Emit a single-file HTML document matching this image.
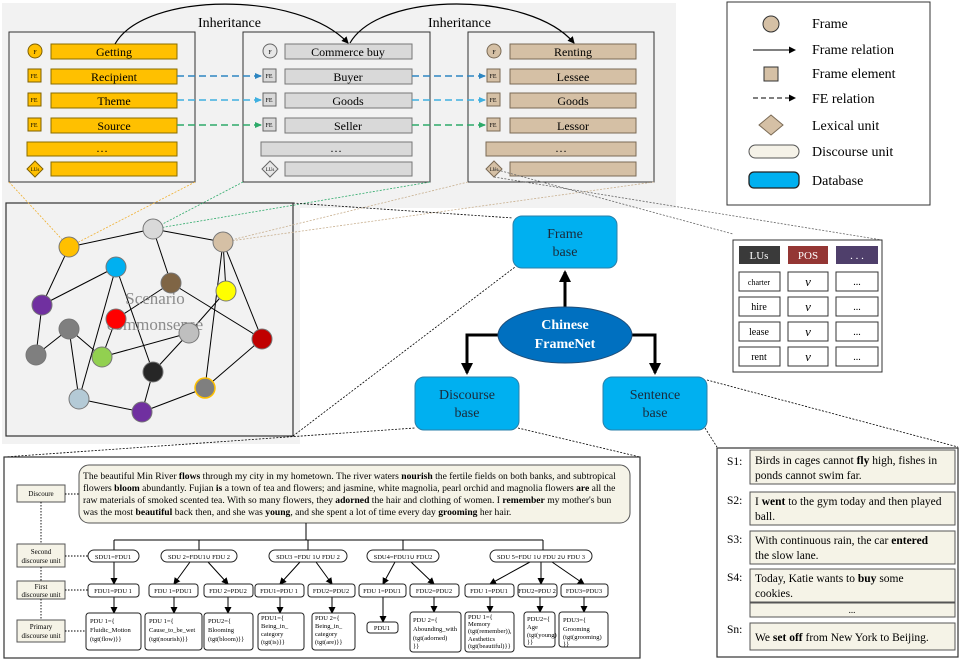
<!DOCTYPE html>
<html><head><meta charset="utf-8"><style>
html,body{margin:0;padding:0;background:#fff}
svg{display:block;font-family:"Liberation Serif",serif}
</style></head><body>
<svg width="967" height="662" viewBox="0 0 967 662" xmlns="http://www.w3.org/2000/svg">
<defs>
<marker id="ahb" markerWidth="7" markerHeight="6" refX="6" refY="3" orient="auto" markerUnits="userSpaceOnUse"><path d="M0,0 L7,3 L0,6 z" fill="#2e86c1"/></marker>
<marker id="ahc" markerWidth="7" markerHeight="6" refX="6" refY="3" orient="auto" markerUnits="userSpaceOnUse"><path d="M0,0 L7,3 L0,6 z" fill="#3fb0e0"/></marker>
<marker id="ahg" markerWidth="7" markerHeight="6" refX="6" refY="3" orient="auto" markerUnits="userSpaceOnUse"><path d="M0,0 L7,3 L0,6 z" fill="#2eaa6a"/></marker>
<marker id="big" markerWidth="12" markerHeight="12" refX="10" refY="6" orient="auto" markerUnits="userSpaceOnUse"><path d="M0,0 L12,6 L0,12 z" fill="#000"/></marker>
<marker id="sm" markerWidth="7" markerHeight="7" refX="6" refY="3.5" orient="auto" markerUnits="userSpaceOnUse"><path d="M0,0 L7,3.5 L0,7 z" fill="#000"/></marker>
</defs>

<rect x="2" y="3" width="674" height="205" fill="#f2f2f2"/>
<rect x="2" y="200" width="298" height="244" fill="#f2f2f2"/>

<text x="198" y="27" font-size="14">Inheritance</text>
<text x="428" y="27" font-size="14">Inheritance</text>

<g font-size="12" text-anchor="middle">
<rect x="9" y="32" width="186" height="150" fill="#f2f2f2" stroke="#333"/>
<circle cx="35" cy="51" r="7" fill="#ffc000" stroke="#7f6000"/><text x="35" y="54" font-size="6">F</text>
<rect x="51" y="44" width="126" height="15" fill="#ffc000" stroke="#8a6d00"/><text x="114" y="56">Getting</text>
<rect x="28" y="69" width="13" height="13" fill="#ffc000" stroke="#7f6000"/><text x="34" y="78" font-size="6">FE</text>
<rect x="51" y="69" width="126" height="15" fill="#ffc000" stroke="#8a6d00"/><text x="114" y="81">Recipient</text>
<rect x="28" y="93" width="13" height="13" fill="#ffc000" stroke="#7f6000"/><text x="34" y="102" font-size="6">FE</text>
<rect x="51" y="93" width="126" height="15" fill="#ffc000" stroke="#8a6d00"/><text x="114" y="105">Theme</text>
<rect x="28" y="118" width="13" height="13" fill="#ffc000" stroke="#7f6000"/><text x="34" y="127" font-size="6">FE</text>
<rect x="51" y="118" width="126" height="15" fill="#ffc000" stroke="#8a6d00"/><text x="114" y="130">Source</text>
<rect x="27" y="142" width="150" height="14" fill="#ffc000" stroke="#8a6d00"/><text x="102" y="152">…</text>
<path d="M35,161 L43,169 L35,177 L27,169 z" fill="#ffc000" stroke="#7f6000"/><text x="35" y="171" font-size="5">LUs</text>
<rect x="51" y="162" width="126" height="14" fill="#ffc000" stroke="#8a6d00"/>

<rect x="243" y="32" width="187" height="150" fill="#f2f2f2" stroke="#333"/>
<circle cx="270" cy="51" r="7" fill="#e7e7e7" stroke="#666"/><text x="270" y="54" font-size="6">F</text>
<rect x="285" y="44" width="127" height="15" fill="#d9d9d9" stroke="#777"/><text x="348" y="56">Commerce buy</text>
<rect x="263" y="69" width="13" height="13" fill="#d9d9d9" stroke="#666"/><text x="269" y="78" font-size="6">FE</text>
<rect x="285" y="69" width="127" height="15" fill="#d9d9d9" stroke="#777"/><text x="348" y="81">Buyer</text>
<rect x="263" y="93" width="13" height="13" fill="#d9d9d9" stroke="#666"/><text x="269" y="102" font-size="6">FE</text>
<rect x="285" y="93" width="127" height="15" fill="#d9d9d9" stroke="#777"/><text x="348" y="105">Goods</text>
<rect x="263" y="118" width="13" height="13" fill="#d9d9d9" stroke="#666"/><text x="269" y="127" font-size="6">FE</text>
<rect x="285" y="118" width="127" height="15" fill="#d9d9d9" stroke="#777"/><text x="348" y="130">Seller</text>
<rect x="261" y="142" width="151" height="14" fill="#d9d9d9" stroke="#777"/><text x="336" y="152">…</text>
<path d="M270,161 L278,169 L270,177 L262,169 z" fill="#e7e7e7" stroke="#666"/><text x="270" y="171" font-size="5">LUs</text>
<rect x="285" y="162" width="127" height="14" fill="#d9d9d9" stroke="#777"/>

<rect x="468" y="32" width="186" height="150" fill="#f2f2f2" stroke="#333"/>
<circle cx="494" cy="51" r="7" fill="#d5c0a5" stroke="#7a6a55"/><text x="494" y="54" font-size="6">F</text>
<rect x="510" y="44" width="126" height="15" fill="#d5c0a5" stroke="#7a6a55"/><text x="573" y="56">Renting</text>
<rect x="487" y="69" width="13" height="13" fill="#d5c0a5" stroke="#7a6a55"/><text x="493" y="78" font-size="6">FE</text>
<rect x="510" y="69" width="126" height="15" fill="#d5c0a5" stroke="#7a6a55"/><text x="573" y="81">Lessee</text>
<rect x="487" y="93" width="13" height="13" fill="#d5c0a5" stroke="#7a6a55"/><text x="493" y="102" font-size="6">FE</text>
<rect x="510" y="93" width="126" height="15" fill="#d5c0a5" stroke="#7a6a55"/><text x="573" y="105">Goods</text>
<rect x="487" y="118" width="13" height="13" fill="#d5c0a5" stroke="#7a6a55"/><text x="493" y="127" font-size="6">FE</text>
<rect x="510" y="118" width="126" height="15" fill="#d5c0a5" stroke="#7a6a55"/><text x="573" y="130">Lessor</text>
<rect x="486" y="142" width="150" height="14" fill="#d5c0a5" stroke="#7a6a55"/><text x="561" y="152">…</text>
<path d="M494,161 L502,169 L494,177 L486,169 z" fill="#d5c0a5" stroke="#7a6a55"/><text x="494" y="171" font-size="5">LUs</text>
<rect x="510" y="162" width="126" height="14" fill="#d5c0a5" stroke="#7a6a55"/>
</g>

<!-- inheritance arcs (on top of boxes) -->
<path d="M115,44 C145,-9 300,-9 348,43" fill="none" stroke="#000" stroke-width="1.2" marker-end="url(#sm)"/>
<path d="M350,43 C380,-9 530,-9 574,43" fill="none" stroke="#000" stroke-width="1.2" marker-end="url(#sm)"/>

<g stroke-width="1.5" stroke-dasharray="7,4" fill="none">
<line x1="177" y1="76" x2="261" y2="76" stroke="#2e86c1" marker-end="url(#ahb)"/>
<line x1="177" y1="100" x2="261" y2="100" stroke="#3fb0e0" marker-end="url(#ahc)"/>
<line x1="177" y1="125" x2="261" y2="125" stroke="#2eaa6a" marker-end="url(#ahg)"/>
<line x1="412" y1="76" x2="485" y2="76" stroke="#2e86c1" marker-end="url(#ahb)"/>
<line x1="412" y1="100" x2="485" y2="100" stroke="#3fb0e0" marker-end="url(#ahc)"/>
<line x1="412" y1="125" x2="485" y2="125" stroke="#2eaa6a" marker-end="url(#ahg)"/>
</g>

<!-- graph box -->
<rect x="6" y="203" width="287" height="233" fill="#f2f2f2" stroke="#333" stroke-width="1.2"/>

<g fill="none" stroke-width="0.8" stroke-dasharray="2,1.5">
<line x1="9" y1="182" x2="69" y2="247" stroke="#f0b030"/>
<line x1="195" y1="182" x2="69" y2="247" stroke="#f0b030"/>
<line x1="243" y1="182" x2="153" y2="229" stroke="#2eaa6a"/>
<line x1="430" y1="182" x2="153" y2="229" stroke="#2eaa6a"/>
<line x1="468" y1="182" x2="223" y2="242" stroke="#c8b090"/>
<line x1="654" y1="182" x2="223" y2="242" stroke="#c8b090"/>
<line x1="494" y1="169" x2="733" y2="234" stroke="#666"/>
<line x1="494" y1="177" x2="882" y2="240" stroke="#666"/>
<line x1="293" y1="203" x2="513" y2="218" stroke="#000"/>
<line x1="293" y1="436" x2="515" y2="267" stroke="#000"/>
<line x1="4" y1="457" x2="415" y2="428" stroke="#000"/>
<line x1="518" y1="428" x2="640" y2="457" stroke="#000"/>
<line x1="707" y1="380" x2="958" y2="447" stroke="#000"/>
<line x1="705" y1="428" x2="717" y2="447" stroke="#000"/>
</g>

<g stroke="#000" stroke-width="1">
<line x1="69" y1="247" x2="42" y2="305"/><line x1="69" y1="247" x2="153" y2="229"/>
<line x1="153" y1="229" x2="223" y2="242"/><line x1="153" y1="229" x2="171" y2="283"/>
<line x1="116" y1="267" x2="42" y2="305"/><line x1="116" y1="267" x2="79" y2="399"/>
<line x1="116" y1="267" x2="153" y2="372"/><line x1="171" y1="283" x2="116" y2="319"/>
<line x1="171" y1="283" x2="262" y2="339"/><line x1="116" y1="319" x2="102" y2="357"/>
<line x1="223" y1="242" x2="226" y2="291"/><line x1="223" y1="242" x2="262" y2="339"/>
<line x1="223" y1="242" x2="205" y2="388"/><line x1="226" y1="291" x2="189" y2="333"/>
<line x1="189" y1="333" x2="102" y2="357"/><line x1="189" y1="333" x2="153" y2="372"/>
<line x1="42" y1="305" x2="36" y2="355"/><line x1="36" y1="355" x2="69" y2="329"/>
<line x1="69" y1="329" x2="102" y2="357"/><line x1="69" y1="329" x2="79" y2="399"/>
<line x1="79" y1="399" x2="142" y2="412"/><line x1="142" y1="412" x2="153" y2="372"/>
<line x1="142" y1="412" x2="205" y2="388"/><line x1="205" y1="388" x2="262" y2="339"/>
</g>
<text x="155" y="304" font-size="17" fill="#8c8c8c" text-anchor="middle">Scenario</text>
<text x="155" y="330" font-size="17" fill="#8c8c8c" text-anchor="middle">commonsense</text>
<g stroke="#777" stroke-width="1">
<circle cx="69" cy="247" r="10" fill="#ffc000"/>
<circle cx="153" cy="229" r="10" fill="#d9d9d9"/>
<circle cx="223" cy="242" r="10" fill="#d5c0a5"/>
<circle cx="116" cy="267" r="10" fill="#00b0f0"/>
<circle cx="171" cy="283" r="10" fill="#7f6545"/>
<circle cx="226" cy="291" r="10" fill="#ffff00"/>
<circle cx="42" cy="305" r="10" fill="#7030a0"/>
<circle cx="116" cy="319" r="10" fill="#ff0000"/>
<circle cx="69" cy="329" r="10" fill="#7f7f7f"/>
<circle cx="189" cy="333" r="10" fill="#bfbfbf"/>
<circle cx="262" cy="339" r="10" fill="#c00000"/>
<circle cx="36" cy="355" r="10" fill="#7f7f7f"/>
<circle cx="102" cy="357" r="10" fill="#92d050"/>
<circle cx="153" cy="372" r="10" fill="#262626"/>
<circle cx="205" cy="388" r="10" fill="#7f7f7f" stroke="#ffc000" stroke-width="1.5"/>
<circle cx="79" cy="399" r="10" fill="#b4cad6"/>
<circle cx="142" cy="412" r="10" fill="#7030a0"/>
</g>

<!-- legend -->
<rect x="727" y="2" width="203" height="203" fill="#fff" stroke="#333"/>
<g font-size="14">
<circle cx="771" cy="24" r="8" fill="#d5c0a5" stroke="#333"/><text x="812" y="28">Frame</text>
<line x1="753" y1="50" x2="795" y2="50" stroke="#000" marker-end="url(#sm)"/><text x="812" y="54">Frame relation</text>
<rect x="764" y="67" width="14" height="14" fill="#d5c0a5" stroke="#333"/><text x="812" y="78">Frame element</text>
<line x1="753" y1="98" x2="795" y2="98" stroke="#000" stroke-dasharray="5,3" marker-end="url(#sm)"/><text x="812" y="103">FE  relation</text>
<path d="M771,115 L783,125 L771,135 L759,125 z" fill="#d5c0a5" stroke="#7a6a55"/><text x="812" y="130">Lexical unit</text>
<rect x="749" y="145" width="50" height="13" rx="6.5" fill="#f5f2e8" stroke="#555"/><text x="812" y="156">Discourse unit</text>
<rect x="749" y="172" width="50" height="16" rx="5" fill="#00b0f0" stroke="#222" stroke-width="1.3"/><text x="812" y="185">Database</text>
</g>

<!-- LUs table -->
<rect x="733" y="240" width="149" height="132" fill="#fff" stroke="#333"/>
<rect x="739" y="246" width="41" height="18" fill="#3a3a3a"/><text x="759" y="259" font-size="11" fill="#fff" text-anchor="middle">LUs</text>
<rect x="788" y="246" width="40" height="18" fill="#943634"/><text x="808" y="259" font-size="11" fill="#fff" text-anchor="middle">POS</text>
<rect x="836" y="246" width="42" height="18" fill="#4f3f6b"/><text x="857" y="259" font-size="11" fill="#fff" text-anchor="middle">. . .</text>
<g font-size="10" text-anchor="middle" fill="none">
<g stroke="#333">
<rect x="739" y="272" width="41" height="19"/><rect x="788" y="272" width="40" height="19"/><rect x="836" y="272" width="42" height="19"/>
<rect x="739" y="297" width="41" height="19"/><rect x="788" y="297" width="40" height="19"/><rect x="836" y="297" width="42" height="19"/>
<rect x="739" y="322" width="41" height="19"/><rect x="788" y="322" width="40" height="19"/><rect x="836" y="322" width="42" height="19"/>
<rect x="739" y="347" width="41" height="19"/><rect x="788" y="347" width="40" height="19"/><rect x="836" y="347" width="42" height="19"/>
</g>
<g fill="#000">
<text x="759" y="285" font-size="8">charter</text><text x="808" y="286" font-size="13" font-style="italic">v</text><text x="857" y="285">...</text>
<text x="759" y="310">hire</text><text x="808" y="311" font-size="13" font-style="italic">v</text><text x="857" y="310">...</text>
<text x="759" y="335">lease</text><text x="808" y="336" font-size="13" font-style="italic">v</text><text x="857" y="335">...</text>
<text x="759" y="360">rent</text><text x="808" y="361" font-size="13" font-style="italic">v</text><text x="857" y="360">...</text>
</g></g>

<!-- center databases -->
<rect x="513" y="216" width="104" height="52" rx="9" fill="#00b0f0" stroke="#2a7fa8"/>
<text x="565" y="238" font-size="14" text-anchor="middle" fill="#1a2a3a">Frame</text>
<text x="565" y="256" font-size="14" text-anchor="middle" fill="#1a2a3a">base</text>
<rect x="415" y="377" width="104" height="53" rx="9" fill="#00b0f0" stroke="#2a7fa8"/>
<text x="467" y="399" font-size="14" text-anchor="middle" fill="#1a2a3a">Discourse</text>
<text x="467" y="417" font-size="14" text-anchor="middle" fill="#1a2a3a">base</text>
<rect x="603" y="377" width="104" height="53" rx="9" fill="#00b0f0" stroke="#2a7fa8"/>
<text x="655" y="399" font-size="14" text-anchor="middle" fill="#1a2a3a">Sentence</text>
<text x="655" y="417" font-size="14" text-anchor="middle" fill="#1a2a3a">base</text>
<g stroke="#000" stroke-width="3" fill="none">
<line x1="565" y1="307" x2="565" y2="272" marker-end="url(#big)"/>
<polyline points="499,335 467,335 467,373" marker-end="url(#big)"/>
<polyline points="631,335 655,335 655,373" marker-end="url(#big)"/>
</g>
<ellipse cx="565" cy="335" rx="67" ry="28" fill="#0070c0" stroke="#1f4e79"/>
<text x="565" y="329" font-size="14" font-weight="bold" fill="#fff" text-anchor="middle">Chinese</text>
<text x="565" y="348" font-size="14" font-weight="bold" fill="#fff" text-anchor="middle">FrameNet</text>

<!-- sentence box -->
<rect x="717" y="448" width="241" height="209" fill="#fff" stroke="#333" stroke-width="1.2"/>
<g font-size="11.5">
<text x="727" y="465">S1:</text>
<rect x="750" y="450" width="205" height="34" fill="#f5f3e7" stroke="#555"/>
<text x="755" y="464">Birds in cages cannot <tspan font-weight="bold">fly</tspan> high, fishes in</text>
<text x="755" y="479">ponds cannot swim far.</text>
<text x="727" y="504">S2:</text>
<rect x="750" y="492" width="205" height="33" fill="#f5f3e7" stroke="#555"/>
<text x="755" y="505">I <tspan font-weight="bold">went</tspan> to the gym today and then played</text>
<text x="755" y="520">ball.</text>
<text x="727" y="543">S3:</text>
<rect x="750" y="531" width="205" height="33" fill="#f5f3e7" stroke="#555"/>
<text x="755" y="544">With continuous rain, the car <tspan font-weight="bold">entered</tspan></text>
<text x="755" y="559">the slow lane.</text>
<text x="727" y="581">S4:</text>
<rect x="750" y="569" width="205" height="33" fill="#f5f3e7" stroke="#555"/>
<text x="755" y="582">Today, Katie wants to <tspan font-weight="bold">buy</tspan> some</text>
<text x="755" y="597">cookies.</text>
<rect x="750" y="603" width="205" height="14" fill="#f5f3e7" stroke="#555"/>
<text x="852" y="613" text-anchor="middle" font-size="9">...</text>
<text x="727" y="633">Sn:</text>
<rect x="750" y="623" width="205" height="27" fill="#f5f3e7" stroke="#555"/>
<text x="755" y="641">We <tspan font-weight="bold">set off</tspan> from New York to Beijing.</text>
</g>

<!-- discourse box -->
<rect x="4" y="457" width="636" height="201" fill="#fff" stroke="#333" stroke-width="1.2"/>
<rect x="79" y="465" width="551" height="58" rx="10" fill="#f5f3e7" stroke="#555"/>
<g font-size="9.6">
<text x="83" y="479">The beautiful Min River <tspan font-weight="bold">flows</tspan> through my city in my hometown. The river waters <tspan font-weight="bold">nourish</tspan> the fertile fields on both banks, and subtropical</text>
<text x="83" y="491">flowers <tspan font-weight="bold">bloom</tspan> abundantly. Fujian <tspan font-weight="bold">is</tspan> a town of tea and flowers; and jasmine, white magnolia, pearl orchid and magnolia flowers <tspan font-weight="bold">are</tspan> all the</text>
<text x="83" y="503">raw materials of smoked scented tea. With so many flowers, they <tspan font-weight="bold">adorned</tspan> the hair and clothing of women. I <tspan font-weight="bold">remember</tspan> my mother's bun</text>
<text x="83" y="515">was the most <tspan font-weight="bold">beautiful</tspan> back then, and she was <tspan font-weight="bold">young</tspan>, and she spent a lot of time every day <tspan font-weight="bold">grooming</tspan> her hair.</text>
</g>
<g font-size="7" text-anchor="middle">
<rect x="17" y="485" width="48" height="17" fill="#f5f3e7" stroke="#555"/><text x="41" y="496">Discoure</text>
<rect x="17" y="544" width="48" height="23" fill="#f5f3e7" stroke="#555"/><text x="41" y="554">Second</text><text x="41" y="563">discourse unit</text>
<rect x="17" y="581" width="48" height="18" fill="#f5f3e7" stroke="#555"/><text x="41" y="589">First</text><text x="41" y="597">discourse unit</text>
<rect x="17" y="620" width="48" height="22" fill="#f5f3e7" stroke="#555"/><text x="41" y="629">Primary</text><text x="41" y="638">discourse unit</text>
</g>
<g stroke="#000" stroke-width="0.9" stroke-dasharray="1.5,1.5" fill="none">
<line x1="41" y1="502" x2="41" y2="544"/>
<line x1="41" y1="567" x2="41" y2="581"/>
<line x1="41" y1="599" x2="41" y2="620"/>
<line x1="65" y1="494" x2="79" y2="494"/>
<line x1="65" y1="556" x2="88" y2="556"/>
<line x1="65" y1="590" x2="88" y2="590"/>
<line x1="65" y1="631" x2="86" y2="631"/>
</g>
<g stroke="#000" stroke-width="1" fill="none">
<line x1="306" y1="523" x2="306" y2="540"/>
<line x1="114" y1="540" x2="543" y2="540"/>
<line x1="114" y1="540" x2="114" y2="550"/><line x1="199" y1="540" x2="199" y2="550"/>
<line x1="308" y1="540" x2="308" y2="550"/><line x1="403" y1="540" x2="403" y2="550"/>
<line x1="543" y1="540" x2="543" y2="550"/>
<g marker-end="url(#sm)">
<line x1="114" y1="562" x2="114" y2="584"/>
<line x1="190" y1="562" x2="174" y2="584"/><line x1="208" y1="562" x2="228" y2="584"/>
<line x1="300" y1="562" x2="280" y2="584"/><line x1="316" y1="562" x2="332" y2="584"/>
<line x1="395" y1="562" x2="383" y2="584"/><line x1="411" y1="562" x2="434" y2="584"/>
<line x1="530" y1="562" x2="490" y2="584"/><line x1="541" y1="562" x2="541" y2="584"/><line x1="552" y1="562" x2="584" y2="584"/>
<line x1="114" y1="597" x2="114" y2="613"/><line x1="174" y1="597" x2="174" y2="613"/><line x1="228" y1="597" x2="228" y2="613"/>
<line x1="280" y1="597" x2="280" y2="613"/><line x1="332" y1="597" x2="332" y2="613"/><line x1="383" y1="597" x2="383" y2="622"/>
<line x1="434" y1="597" x2="434" y2="612"/><line x1="490" y1="597" x2="490" y2="612"/><line x1="540" y1="597" x2="540" y2="612"/><line x1="584" y1="597" x2="584" y2="612"/>
</g>
</g>
<g font-size="6.5" text-anchor="middle" stroke-width="1">
<g fill="#fff" stroke="#222">
<rect x="88" y="550" width="51" height="12" rx="6"/><rect x="161" y="550" width="76" height="12" rx="6"/>
<rect x="269" y="550" width="78" height="12" rx="6"/><rect x="367" y="550" width="72" height="12" rx="6"/>
<rect x="490" y="550" width="102" height="12" rx="6"/>
<rect x="88" y="584" width="51" height="13" rx="3"/><rect x="149" y="584" width="49" height="13" rx="3"/>
<rect x="204" y="584" width="49" height="13" rx="3"/><rect x="255" y="584" width="49" height="13" rx="3"/>
<rect x="308" y="584" width="47" height="13" rx="3"/><rect x="359" y="584" width="47" height="13" rx="3"/>
<rect x="410" y="584" width="49" height="13" rx="3"/><rect x="465" y="584" width="49" height="13" rx="3"/>
<rect x="518" y="584" width="39" height="13" rx="3"/><rect x="561" y="584" width="47" height="13" rx="3"/>
<rect x="86" y="613" width="55" height="37" rx="3"/><rect x="145" y="613" width="57" height="37" rx="3"/>
<rect x="204" y="613" width="49" height="37" rx="3"/><rect x="258" y="613" width="46" height="37" rx="3"/>
<rect x="312" y="613" width="43" height="37" rx="3"/><rect x="367" y="622" width="31" height="11" rx="3"/>
<rect x="410" y="612" width="51" height="40" rx="3"/><rect x="465" y="612" width="49" height="40" rx="3"/>
<rect x="524" y="612" width="31" height="35" rx="3"/><rect x="559" y="612" width="49" height="35" rx="3"/>
</g>
<text x="113" y="559">SDU1=FDU1</text><text x="199" y="559">SDU 2=FDU1∪ FDU 2</text>
<text x="308" y="559">SDU3 =FDU 1∪ FDU 2</text><text x="403" y="559">SDU4=FDU1∪ FDU2</text>
<text x="541" y="559">SDU 5=FDU 1∪ FDU 2∪ FDU 3</text>
<text x="113" y="593">FDU1=PDU 1</text><text x="173" y="593">FDU 1=PDU1</text><text x="228" y="593">FDU 2=PDU2</text>
<text x="279" y="593">FDU1=PDU 1</text><text x="331" y="593">FDU2=PDU2</text><text x="382" y="593">FDU 1=PDU1</text>
<text x="434" y="593">FDU2=PDU2</text><text x="489" y="593">FDU 1=PDU1</text><text x="537" y="593">FDU2=PDU 2</text>
<text x="584" y="593">FDU3=PDU3</text>
<text x="382" y="630">PDU1</text>
</g>
<g font-size="6.5">
<text x="90" y="623">PDU 1={</text><text x="90" y="632">Fluidic_Motion</text><text x="90" y="641">(tgt(flow)}}</text>
<text x="149" y="623">PDU 1={</text><text x="149" y="632">Cause_to_be_wet</text><text x="149" y="641">(tgt(nourish)}}</text>
<text x="208" y="623">PDU2={</text><text x="208" y="632">Blooming</text><text x="208" y="641">(tgt(bloom)}}</text>
<text x="261" y="620">PDU1={</text><text x="261" y="628">Being_in_</text><text x="261" y="636">category</text><text x="261" y="644">(tgt(is)}}</text>
<text x="315" y="620">PDU 2={</text><text x="315" y="628">Being_in_</text><text x="315" y="636">category</text><text x="315" y="644">(tgt(are)}}</text>
<text x="413" y="622">PDU 2={</text><text x="413" y="631">Abounding_with</text><text x="413" y="640">(tgt(adorned)</text><text x="413" y="648">}}</text>
<text x="468" y="619">PDU 1={</text><text x="468" y="626">Memory</text><text x="468" y="633">(tgt(remember)),</text><text x="468" y="641">Aesthetics</text><text x="468" y="648">(tgt(beautiful)}}</text>
<text x="527" y="621">PDU2={</text><text x="527" y="629">Age</text><text x="527" y="637">(tgt(young)</text><text x="527" y="644">}}</text>
<text x="563" y="622">PDU3={</text><text x="563" y="631">Grooming</text><text x="563" y="639">(tgt(grooming)</text><text x="563" y="646">}}</text>
</g>
</svg>
</body></html>
